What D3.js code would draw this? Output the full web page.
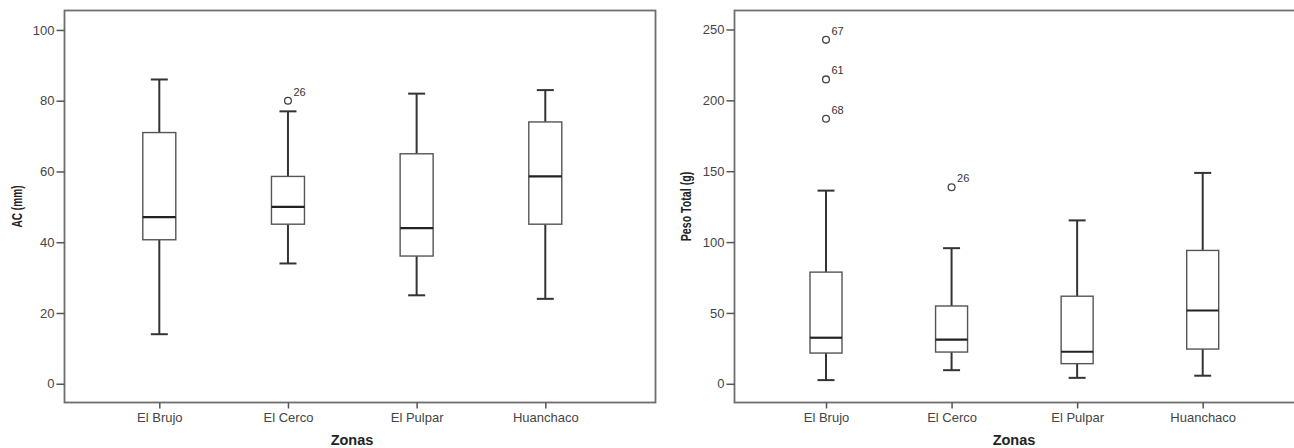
<!DOCTYPE html>
<html>
<head>
<meta charset="utf-8">
<script src="https://cdn.jsdelivr.net/npm/d3@7"></script>
<style>
  html, body { margin: 0; padding: 0; background: #fff; }
  svg { display: block; font-family: "Liberation Sans", Arial, sans-serif; }
</style>
</head>
<body>
<svg id="chart" width="1294" height="448"></svg>
<script>
// Sampling zones
const zonas = ["El Brujo", "El Cerco", "El Pulpar", "Huanchaco"];

// AC (mm): five-number summaries per zone
const acMin    = [14, 34, 25, 24];
const acQ1     = [40.7, 45.1, 36.1, 45.1];
const acMedian = [47.1, 50, 44, 58.6];
const acQ3     = [71, 58.6, 65, 74];
const acMax    = [86, 77, 82, 83];
// AC outliers: [zone, value, case id]
const acOutliers = [["El Cerco", 80, "26"]];
const acTicks = [0, 20, 40, 60, 80, 100];

// Peso Total (g): five-number summaries per zone
const pesoMin    = [2.6, 9.6, 4.2, 5.7];
const pesoQ1     = [21.7, 22.4, 14.2, 24.5];
const pesoMedian = [32.5, 31.1, 22.6, 51.7];
const pesoQ3     = [78.8, 54.9, 61.8, 94.1];
const pesoMax    = [136.3, 95.7, 115.3, 148.8];
const pesoOutliers = [["El Brujo", 242.7, "67"], ["El Brujo", 214.8, "61"], ["El Brujo", 187, "68"], ["El Cerco", 138.7, "26"]];
const pesoTicks = [0, 50, 100, 150, 200, 250];

const svg = d3.select("#chart");

function boxPanel(cfg) {
  const g = svg.append("g");
  const y = d3.scaleLinear().domain(cfg.yDomain).range([cfg.bottom, cfg.top]);
  const x = d3.scalePoint().domain(zonas).range(cfg.xRange);

  const rows = zonas.map((z, i) => ({
    zona: z, min: cfg.min[i], q1: cfg.q1[i], med: cfg.median[i], q3: cfg.q3[i], max: cfg.max[i]
  }));

  // frame
  g.append("rect")
    .attr("x", cfg.left).attr("y", cfg.top)
    .attr("width", cfg.right - cfg.left).attr("height", cfg.bottom - cfg.top)
    .attr("fill", "none").attr("stroke", "#6e6e6e").attr("stroke-width", 1.8);

  // y axis
  const yAxis = d3.axisLeft(y).tickValues(cfg.yTicks).tickSize(8).tickPadding(2);
  const ya = g.append("g").attr("transform", `translate(${cfg.left},0)`).call(yAxis);
  ya.select(".domain").remove();
  ya.selectAll(".tick line").attr("stroke", "#555").attr("stroke-width", 1.5);
  ya.selectAll(".tick text").attr("fill", "#444").attr("font-size", 13);

  // x axis
  const xAxis = d3.axisBottom(x).tickSize(6).tickPadding(4);
  const xa = g.append("g").attr("transform", `translate(0,${cfg.bottom})`).call(xAxis);
  xa.select(".domain").remove();
  xa.selectAll(".tick line").attr("stroke", "#555").attr("stroke-width", 1.5);
  xa.selectAll(".tick text").attr("fill", "#444").attr("font-size", 13);

  const bw = cfg.boxWidth, cw = cfg.capWidth;
  const box = g.selectAll(".box").data(rows).join("g").attr("class", "box");

  // whiskers
  box.append("line")
    .attr("x1", d => x(d.zona)).attr("x2", d => x(d.zona))
    .attr("y1", d => y(d.max)).attr("y2", d => y(d.q3))
    .attr("stroke", "#333").attr("stroke-width", 2);
  box.append("line")
    .attr("x1", d => x(d.zona)).attr("x2", d => x(d.zona))
    .attr("y1", d => y(d.q1)).attr("y2", d => y(d.min))
    .attr("stroke", "#333").attr("stroke-width", 2);
  // caps
  box.append("line")
    .attr("x1", d => x(d.zona) - cw / 2).attr("x2", d => x(d.zona) + cw / 2)
    .attr("y1", d => y(d.max)).attr("y2", d => y(d.max))
    .attr("stroke", "#333").attr("stroke-width", 2);
  box.append("line")
    .attr("x1", d => x(d.zona) - cw / 2).attr("x2", d => x(d.zona) + cw / 2)
    .attr("y1", d => y(d.min)).attr("y2", d => y(d.min))
    .attr("stroke", "#333").attr("stroke-width", 2);
  // box
  box.append("rect")
    .attr("x", d => x(d.zona) - bw / 2).attr("width", bw)
    .attr("y", d => y(d.q3)).attr("height", d => y(d.q1) - y(d.q3))
    .attr("fill", "#fff").attr("stroke", "#555").attr("stroke-width", 1.4);
  // median
  box.append("line")
    .attr("x1", d => x(d.zona) - bw / 2).attr("x2", d => x(d.zona) + bw / 2)
    .attr("y1", d => y(d.med)).attr("y2", d => y(d.med))
    .attr("stroke", "#222").attr("stroke-width", 2.2);

  // outliers with case labels
  const out = g.selectAll(".outlier").data(cfg.outliers).join("g").attr("class", "outlier");
  out.append("circle")
    .attr("cx", d => x(d[0])).attr("cy", d => y(d[1])).attr("r", 3.4)
    .attr("fill", "none").attr("stroke", "#444").attr("stroke-width", 1.3);
  out.append("text")
    .attr("x", d => x(d[0]) + 5.5).attr("y", d => y(d[1]) - 5)
    .attr("font-size", 11).attr("fill", "#333").text(d => d[2]);

  // axis titles (y title set in a condensed bold face)
  g.append("text")
    .attr("transform", `translate(${cfg.yTitleX},${(cfg.top + cfg.bottom) / 2}) rotate(-90) scale(${cfg.yTitleSqueeze},1)`)
    .attr("text-anchor", "middle").attr("font-weight", "bold").attr("font-size", 14)
    .attr("fill", "#222").text(cfg.yTitle);
  g.append("text")
    .attr("x", cfg.xTitleX).attr("y", 445)
    .attr("text-anchor", "middle").attr("font-weight", "bold").attr("font-size", 14.5)
    .attr("fill", "#222").text("Zonas");
}

boxPanel({
  left: 64.5, right: 655.5, top: 10.5, bottom: 402.5,
  yDomain: [-5.3, 105.5], yTicks: acTicks,
  xRange: [159.3, 545.3], boxWidth: 33, capWidth: 17,
  min: acMin, q1: acQ1, median: acMedian, q3: acQ3, max: acMax,
  outliers: acOutliers, yTitle: "AC (mm)", yTitleX: 22, yTitleSqueeze: 0.72, xTitleX: 352
});

boxPanel({
  left: 734.5, right: 1300, top: 10.5, bottom: 402.5,
  yDomain: [-13.2, 263.4], yTicks: pesoTicks,
  xRange: [826, 1202.7], boxWidth: 32, capWidth: 17,
  min: pesoMin, q1: pesoQ1, median: pesoMedian, q3: pesoQ3, max: pesoMax,
  outliers: pesoOutliers, yTitle: "Peso Total (g)", yTitleX: 690.5, yTitleSqueeze: 0.76, xTitleX: 1014
});
</script>
</body>
</html>
